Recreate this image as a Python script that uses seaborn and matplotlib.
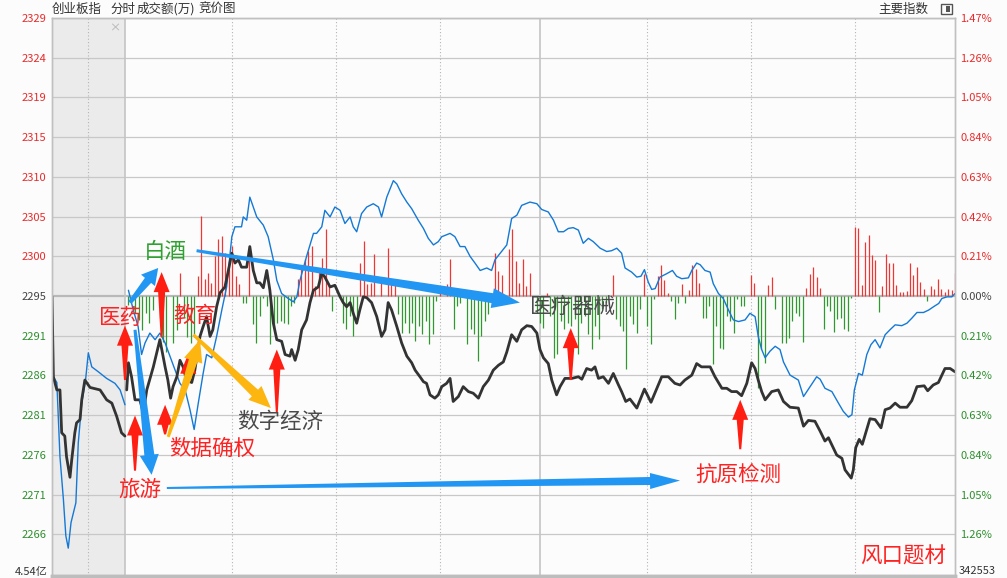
import numpy as np
import pandas as pd
import matplotlib
matplotlib.use('Agg')
import matplotlib.pyplot as plt
import seaborn as sns
from matplotlib.patches import Polygon, Rectangle

sns.set_theme(style='white')
plt.rcParams['font.family'] = ['Noto Sans CJK SC', 'DejaVu Sans']
plt.rcParams['axes.unicode_minus'] = False

# ---- 数据 ----
prev_close = 2295.3          # 昨收
pct_step = 0.21              # 网格每格涨跌幅(%)

left_labels = ['2266', '2271', '2276', '2281', '2286', '2291', '2295',
               '2300', '2305', '2310', '2315', '2319', '2324', '2329']
right_labels = ['1.26%', '1.05%', '0.84%', '0.63%', '0.42%', '0.21%', '0.00%',
                '0.21%', '0.42%', '0.63%', '0.84%', '1.05%', '1.26%', '1.47%']

# 竞价阶段 (分钟, 负值为开盘前)
auction_t = [-21.1, -20.7, -19.7, -18.8, -18.3, -17.4, -16.9, -15.9, -15.4, -14.5, -14.0,
             -13.0, -12.5, -11.6, -10.1, -7.2, -5.3, -3.8, -2.4, -1.0, 0.0]
auction_price = [2295.2, 2285.5, 2283.9, 2283.9, 2278.7, 2278.3, 2275.8, 2273.3, 2275.4,
                 2278.7, 2279.9, 2280.3, 2282.7, 2285.1, 2284.2, 2283.9, 2282.7, 2282.3,
                 2280.7, 2278.7, 2278.3]
auction_blue_t = [-21.1, -20.7, -19.7, -18.8, -17.8, -17.1, -16.4, -15.6, -14.9, -14.2,
                  -13.5, -12.5, -11.4, -10.6, -9.6, -7.7, -5.3, -2.9, -1.4, 0.0]
auction_blue = [2295.2, 2285.5, 2284.8, 2275.8, 2270.6, 2266.2, 2264.7, 2267.8, 2269.0,
                2270.2, 2277.5, 2282.3, 2285.1, 2288.4, 2286.7, 2286.1, 2285.3, 2284.7,
                2283.9, 2282.1]

# 创业板指 分时 (黑线)
index_t = [0.5, 1.0, 1.9, 2.9, 4.3, 5.3, 6.3, 8.2, 10.1, 11.6, 12.4, 13.2, 13.9, 15.0, 15.9,
           16.8, 17.8, 19.3, 20.2, 21.7, 22.6, 23.6, 24.6, 25.4, 26.5, 27.5, 28.9, 29.9,
           30.9, 31.8, 32.8, 33.7, 35.2, 36.1, 37.1, 38.1, 39.0, 40.0, 41.0, 41.9, 42.9,
           43.9, 45.3, 46.3, 47.7, 48.2, 49.2, 50.1, 51.1, 52.5, 53.5, 54.5, 55.9, 56.9,
           57.8, 59.3, 60.7, 62.2, 63.1, 64.1, 65.1, 66.0, 67.0, 67.9, 68.9, 69.9, 71.3,
           72.8, 74.2, 75.2, 76.1, 77.1, 78.6, 80.0, 81.5, 82.9, 83.9, 85.3, 86.3, 87.2,
           88.2, 89.6, 90.6, 91.6, 93.0, 94.0, 94.9, 96.4, 97.8, 99.3, 100.7, 102.2, 103.6,
           105.1, 106.5, 108.0, 109.4, 110.4, 111.8, 113.3, 114.7, 116.2, 117.6, 119.1,
           120.0, 121.0, 122.4, 123.4, 124.8, 125.8, 127.2, 129.2, 131.1, 132.1, 133.5,
           134.9, 135.9, 136.9, 138.3, 139.8, 141.2, 142.7, 143.6, 144.8, 146.0, 148.0,
           150.2, 152.1, 153.8, 155.2, 157.1, 159.0, 160.5, 161.9, 163.9, 165.3, 166.7,
           169.2, 170.6, 172.6, 174.0, 175.4, 176.9, 178.3, 179.8, 181.2, 182.2, 183.1,
           184.1, 185.1, 187.0, 188.9, 190.4, 192.3, 194.7, 196.2, 197.6, 199.5, 201.0,
           202.4, 203.4, 205.8, 207.3, 208.2, 210.0, 210.6, 211.3, 212.3, 213.2, 214.2,
           215.4, 216.9, 218.6, 219.8, 221.2, 222.7, 224.1, 226.1, 227.5, 229.0, 231.1,
           232.1, 233.7, 235.2, 237.1, 238.6, 240.0]
index_price = [2283.9, 2287.2, 2285.5, 2282.7, 2282.7, 2281.1, 2283.9, 2286.7, 2290.0, 2286.7,
               2285.1, 2282.9, 2284.3, 2285.5, 2287.5, 2286.7, 2285.1, 2284.8, 2286.3, 2290.4,
               2291.6, 2292.8, 2290.4, 2291.2, 2294.0, 2295.7, 2296.4, 2298.4, 2300.5, 2299.3,
               2299.7, 2298.8, 2298.8, 2301.3, 2298.4, 2296.9, 2296.9, 2296.3, 2298.4, 2296.0,
               2292.0, 2290.0, 2289.8, 2288.2, 2288.0, 2288.8, 2287.5, 2288.8, 2291.2, 2292.4,
               2294.5, 2296.0, 2296.4, 2298.1, 2297.6, 2296.4, 2296.6, 2295.2, 2294.5, 2294.0,
               2294.5, 2293.2, 2292.0, 2293.6, 2295.2, 2295.1, 2294.5, 2292.8, 2290.4, 2291.2,
               2294.5, 2293.6, 2291.6, 2289.6, 2288.0, 2287.2, 2286.3, 2285.5, 2284.9, 2284.7,
               2283.3, 2282.9, 2283.3, 2284.3, 2284.7, 2285.3, 2282.5, 2283.1, 2284.3, 2283.7,
               2283.5, 2282.9, 2284.3, 2285.1, 2286.3, 2286.9, 2287.3, 2288.5, 2290.6, 2289.8,
               2291.2, 2291.7, 2291.6, 2290.8, 2288.8, 2287.8, 2287.1, 2285.1, 2283.3, 2284.3,
               2285.3, 2285.3, 2285.5, 2285.2, 2286.5, 2286.3, 2286.7, 2285.3, 2285.5, 2284.7,
               2285.9, 2284.5, 2283.7, 2282.5, 2282.8, 2281.7, 2284.0, 2282.4, 2284.1, 2285.5,
               2285.5, 2284.7, 2284.5, 2285.1, 2285.7, 2287.1, 2286.7, 2286.7, 2285.5, 2284.1,
               2284.1, 2283.7, 2283.7, 2283.2, 2284.7, 2287.2, 2286.5, 2285.1, 2283.7, 2282.7,
               2283.7, 2283.9, 2282.5, 2281.8, 2281.7, 2279.5, 2280.2, 2280.1, 2278.9, 2277.7,
               2278.1, 2276.0, 2275.6, 2274.2, 2273.2, 2274.2, 2276.9, 2277.9, 2277.3, 2278.7,
               2280.4, 2280.3, 2279.3, 2281.5, 2281.7, 2282.3, 2281.8, 2281.8, 2282.6, 2284.3,
               2284.4, 2283.8, 2284.5, 2284.8, 2286.5, 2286.5, 2286.1]

# 蓝线 (领先指标)
lead_t = [1.0, 2.4, 3.8, 4.8, 5.8, 7.2, 8.7, 10.1, 11.6, 13.0, 14.5, 15.9, 17.4, 18.8, 20.0,
          21.2, 22.6, 23.6, 25.1, 26.5, 28.0, 29.4, 30.9, 31.8, 33.7, 34.2, 35.2, 36.1, 38.1,
          40.0, 41.4, 42.9, 43.9, 45.3, 47.2, 48.7, 49.7, 50.6, 52.5, 54.5, 55.4, 56.9, 57.8,
          59.3, 60.7, 62.2, 63.6, 65.1, 66.0, 67.0, 68.4, 69.9, 71.8, 73.3, 74.2, 75.7, 77.6,
          78.6, 80.0, 81.5, 82.9, 84.8, 86.3, 87.7, 89.2, 90.6, 91.6, 94.0, 95.4, 96.9, 98.3,
          99.8, 101.2, 102.7, 104.6, 106.0, 107.0, 108.9, 110.4, 111.8, 113.3, 114.7, 117.1,
          119.1, 120.5, 122.4, 123.9, 125.3, 126.8, 128.2, 129.6, 131.1, 132.5, 134.0, 135.4,
          137.4, 139.3, 140.7, 142.2, 143.6, 144.6, 146.5, 148.0, 149.2, 150.2, 151.3, 152.3,
          153.3, 154.7, 156.6, 158.3, 159.5, 161.0, 162.9, 163.9, 165.3, 166.3, 167.7, 169.2,
          170.1, 171.6, 173.0, 174.5, 175.9, 177.4, 179.3, 180.7, 182.2, 183.1, 184.1, 185.1,
          186.5, 188.0, 189.4, 190.4, 192.3, 194.7, 196.2, 198.1, 200.0, 201.0, 202.4, 204.4,
          206.3, 207.7, 209.2, 210.2, 210.9, 212.1, 213.2, 214.5, 215.7, 216.9, 218.3, 219.8,
          221.2, 222.7, 224.6, 226.1, 227.5, 229.0, 230.9, 232.4, 233.8, 235.3, 236.2, 237.7,
          239.1, 240.0]
lead_price = [2296.0, 2293.6, 2291.6, 2288.2, 2289.6, 2290.8, 2290.0, 2290.8, 2289.6, 2288.0,
              2286.3, 2284.7, 2283.9, 2281.5, 2279.1, 2282.3, 2285.9, 2288.2, 2287.8, 2290.4,
              2293.6, 2296.4, 2302.5, 2303.7, 2303.7, 2304.9, 2304.5, 2307.3, 2304.9, 2303.9,
              2302.5, 2299.7, 2297.2, 2295.6, 2295.0, 2294.6, 2295.2, 2297.2, 2300.1, 2302.9,
              2302.9, 2303.7, 2305.7, 2304.9, 2306.1, 2305.7, 2304.1, 2304.9, 2303.7, 2303.1,
              2305.3, 2306.1, 2306.5, 2306.1, 2304.9, 2307.3, 2309.3, 2308.9, 2307.7, 2306.7,
              2305.9, 2304.5, 2303.5, 2302.3, 2301.5, 2301.9, 2302.5, 2302.9, 2302.5, 2301.3,
              2301.3, 2300.1, 2299.3, 2298.4, 2298.7, 2298.4, 2299.7, 2300.7, 2301.5, 2304.7,
              2305.1, 2306.3, 2306.7, 2306.5, 2305.8, 2305.5, 2304.5, 2303.1, 2303.1, 2303.5,
              2303.6, 2303.3, 2301.7, 2302.3, 2301.9, 2301.1, 2300.7, 2300.8, 2301.1, 2300.5,
              2298.7, 2298.2, 2297.6, 2297.7, 2298.5, 2297.0, 2296.1, 2296.2, 2297.6, 2298.0,
              2298.4, 2297.7, 2297.4, 2297.5, 2298.4, 2299.3, 2299.1, 2298.4, 2298.2, 2296.8,
              2295.6, 2295.0, 2293.6, 2292.4, 2292.2, 2292.4, 2293.2, 2292.8, 2290.4, 2288.8,
              2287.8, 2288.6, 2289.2, 2288.8, 2287.3, 2285.7, 2285.1, 2283.1, 2284.3, 2285.5,
              2285.2, 2284.1, 2283.7, 2282.3, 2281.3, 2280.6, 2280.9, 2283.9, 2285.9, 2285.7,
              2288.2, 2289.4, 2290.0, 2289.0, 2290.6, 2291.2, 2291.8, 2291.7, 2292.0, 2292.6,
              2293.3, 2293.3, 2293.6, 2294.0, 2294.4, 2295.0, 2295.2, 2295.2, 2295.6]

# 红绿柱 (每分钟一根, 正为红, 负为绿)
bar_t = list(range(1, 241))
bar_strength = [
    -9, 0, -17, -24, -34, -17, -27, -14, 0, -22, -46, -56, 0, -47, -34, 23, -21, -41, -47, -41,
    20, 80, 17, 23, 13, 40, 57, 60, 43, 27, 50, 20, 12, -7, -7, 50, -28, -47, -20, -2,
    -10, -48, -33, -27, -25, -27, -28, -10, -7, 17, 27, 37, 45, 50, 10, 27, 38, 67, 10, -15,
    0, 0, -27, -33, -20, -40, -23, 33, 55, 12, 13, 42, 0, 17, 0, 48, 17, 17, -18, -37,
    -27, -37, -27, -45, -30, -38, -25, -48, -38, -5, 8, 0, 12, 37, -33, -10, -7, 5, -48, -33,
    -38, -65, -40, -25, -18, 0, 43, 25, 21, 0, 47, 67, 35, 13, 37, 10, 23, 0, -17, -27,
    -32, 3, -20, -62, -58, -25, -33, -27, -30, -23, -58, -27, -20, -38, -53, -30, -43, -13, -7, 0,
    21, -23, -30, -35, -73, -20, -28, -37, -13, 22, -30, -48, -3, 20, 31, 16, 3, -5, -23, -7,
    12, -7, 6, 31, 27, 13, -22, -22, -10, -68, -30, -52, -53, -20, -25, -37, -3, -10, -10, 0,
    21, 13, -92, -53, -67, 11, 19, -13, 0, -47, -47, -42, -25, -17, -20, -46, 8, 22, 29, 19,
    8, -33, -10, -15, -36, -23, -22, -33, -35, -2, 69, 68, 11, 54, 61, 41, 36, -16, 10, 42,
    33, 33, 11, 4, 4, 5, 33, 21, 29, 14, 7, -5, 10, 7, 17, 7, 4, 7, 6, 23]
bar_scale = 0.121   # 柱高换算到指数点

# 题材标注: (文字, 分钟, 点位, 颜色)
labels = [('白酒', 11.6, 2300.6, '#2ea12e'),
          ('医药', -1.4, 2292.6, '#ff2222'),
          ('教育', 20.2, 2292.9, '#ff2222'),
          ('数字经济', 44.8, 2280.0, '#4a4a4a'),
          ('数据确权', 25.2, 2276.7, '#ff2222'),
          ('旅游', 4.3, 2271.8, '#ff2222'),
          ('医疗器械', 129.6, 2294.0, '#4a4a4a'),
          ('抗原检测', 177.3, 2273.5, '#ff2222'),
          ('风口题材', 225.0, 2263.7, '#ff2222')]

# 箭头: (起点, 终点)
red_arrows = [((0.0, 2285.1), (0.0, 2291.7)),
              ((10.6, 2290.3), (10.6, 2298.2)),
              ((2.9, 2274.1), (2.9, 2280.8)),
              ((11.6, 2278.5), (11.6, 2282.1)),
              ((18.3, 2284.7), (18.3, 2288.3)),
              ((43.9, 2281.2), (43.9, 2288.8)),
              ((128.9, 2285.1), (128.9, 2291.4)),
              ((177.9, 2276.7), (177.9, 2282.7))]
blue_arrows = [((1.4, 2294.5), (9.6, 2298.7)),
               ((2.9, 2291.2), (7.7, 2273.6)),
               ((20.7, 2300.8), (114.2, 2294.5)),
               ((12.1, 2272.0), (160.5, 2272.9))]
orange_arrows = [((12.5, 2278.2), (21.7, 2290.0)),
                 ((19.8, 2290.6), (42.2, 2281.7))]

# ---- 画布 ----
fig = plt.figure(figsize=(10.07, 5.78), dpi=100)
fig.patch.set_facecolor('#fcfcfc')
ax = fig.add_axes([52 / 1007, 2 / 578, 903 / 1007, 558 / 578])
ax.set_facecolor('#fcfcfc')

step = prev_close * pct_step / 100
ticks = [prev_close + k * step for k in range(-6, 8)]
ax.set_xlim(-21.1, 240)
ax.set_ylim(prev_close - 7.05 * step, prev_close + 7 * step)

ax.axvspan(-21.1, 0, color='#ebebeb', zorder=0, lw=0)
for y in ticks:
    if abs(y - prev_close) < 1e-6:
        ax.axhline(y, color='#b8b8b8', lw=1.6, zorder=1)
    else:
        ax.axhline(y, color='#c8c8c8', lw=0.9, zorder=1)
for xv in [0, 120]:
    ax.axvline(xv, color='#c4c4c4', lw=1.2, zorder=1)
for xv in [-10.7, 31, 61, 91, 151, 181, 211]:
    ax.axvline(xv, color='#b5b5b5', lw=0.8, ls=(0, (1, 2)), zorder=1)
ax.text(-2.9, prev_close + 6.75 * step, '×', color='#b0b0b0', fontsize=8,
        ha='center', va='center')

# 红绿柱
bars = pd.DataFrame({'t': bar_t, 'v': bar_strength})
pos = bars[bars.v > 0]
neg = bars[bars.v < 0]
ax.vlines(pos.t, prev_close, prev_close + pos.v * bar_scale, color='#f03535', lw=0.9, zorder=2)
ax.vlines(neg.t, prev_close, prev_close + neg.v * bar_scale, color='#2f982f', lw=0.9, zorder=2)

# 分时线
sns.lineplot(x=auction_blue_t, y=auction_blue, ax=ax, color='#1479d6', lw=1.0,
             estimator=None, sort=False, zorder=3)
sns.lineplot(x=lead_t, y=lead_price, ax=ax, color='#1479d6', lw=1.0,
             estimator=None, sort=False, zorder=3)
sns.lineplot(x=auction_t, y=auction_price, ax=ax, color='#333333', lw=2.0,
             estimator=None, sort=False, zorder=4)
sns.lineplot(x=index_t, y=index_price, ax=ax, color='#333333', lw=2.0,
             estimator=None, sort=False, zorder=4)


def tapered_arrow(tail, tip, w_tail, w_neck, head_w, head_len, color):
    trans = ax.transData
    p0 = trans.transform(tail)
    p1 = trans.transform(tip)
    d = p1 - p0
    u = d / np.hypot(*d)
    n = np.array([-u[1], u[0]])
    neck = p1 - u * head_len
    pts = [p0 + n * w_tail / 2, neck + n * w_neck / 2, neck + n * head_w / 2, p1,
           neck - n * head_w / 2, neck - n * w_neck / 2, p0 - n * w_tail / 2]
    ax.add_patch(Polygon(trans.inverted().transform(pts), closed=True,
                         fc=color, ec='none', zorder=6))


for tail, tip in red_arrows:
    tapered_arrow(tail, tip, 2, 7, 16, 20, '#ff1e12')
tapered_arrow(*blue_arrows[0], 4, 8, 18, 16, '#2196f3')
tapered_arrow(*blue_arrows[1], 3, 10, 19, 20, '#2196f3')
tapered_arrow(*blue_arrows[2], 3, 10, 20, 28, '#2196f3')
tapered_arrow(*blue_arrows[3], 2, 8, 16, 30, '#2196f3')
for tail, tip in orange_arrows:
    tapered_arrow(tail, tip, 3, 9, 19, 22, '#fdb510')

for txt, tx, ty, col in labels:
    ax.text(tx, ty, txt, color=col, fontsize=15.5, ha='center', va='center', zorder=7)

# 坐标轴刻度
ax.set_yticks(ticks)
ax.set_yticklabels(left_labels, fontsize=8)
ax.set_xticks([])
ax.tick_params(axis='y', length=0, pad=4)
for lab, y in zip(ax.get_yticklabels(), ticks):
    if y > prev_close + 1e-6:
        lab.set_color('#ea2a2a')
    elif y < prev_close - 1e-6:
        lab.set_color('#2d8f2d')
    else:
        lab.set_color('#444444')
ax.grid(False)

ax2 = ax.twinx()
ax2.set_ylim(ax.get_ylim())
ax2.set_yticks(ticks)
ax2.set_yticklabels(right_labels, fontsize=8)
ax2.tick_params(axis='y', length=0, pad=4)
for lab, y in zip(ax2.get_yticklabels(), ticks):
    if y > prev_close + 1e-6:
        lab.set_color('#ea2a2a')
    elif y < prev_close - 1e-6:
        lab.set_color('#2d8f2d')
    else:
        lab.set_color('#444444')
ax2.grid(False)

for a in (ax, ax2):
    for side in ['left', 'right', 'top']:
        a.spines[side].set_color('#c0c0c0')
        a.spines[side].set_linewidth(1.0)
    a.spines['bottom'].set_color('#bdbdbd')
    a.spines['bottom'].set_linewidth(2.5)

# 顶部标题栏
fig.text(52 / 1007, 1 - 9 / 578, '创业板指', fontsize=9, color='#333333', va='center')
fig.text(110 / 1007, 1 - 9 / 578, '分时', fontsize=9, color='#333333', va='center')
fig.text(137 / 1007, 1 - 9 / 578, '成交额(万)', fontsize=9, color='#333333', va='center')
fig.text(198 / 1007, 1 - 9 / 578, '竞价图', fontsize=9, color='#333333', va='center')
fig.text(928 / 1007, 1 - 9 / 578, '主要指数', fontsize=9, color='#333333', va='center', ha='right')
fig.patches.append(Rectangle((941 / 1007, 1 - 14 / 578), 11 / 1007, 10 / 578,
                             transform=fig.transFigure, fc='#fcfcfc', ec='#555555', lw=1.0))
fig.patches.append(Rectangle((946 / 1007, 1 - 12 / 578), 4 / 1007, 6 / 578,
                             transform=fig.transFigure, fc='#555555', ec='none'))

# 底部成交量刻度
fig.text(48 / 1007, 1.5 / 578, '4.54亿', fontsize=8, color='#333333', va='bottom', ha='right')
fig.text(959 / 1007, 1.5 / 578, '342553', fontsize=8, color='#333333', va='bottom', ha='left')

fig.savefig('out.png', dpi=100, facecolor=fig.get_facecolor())
